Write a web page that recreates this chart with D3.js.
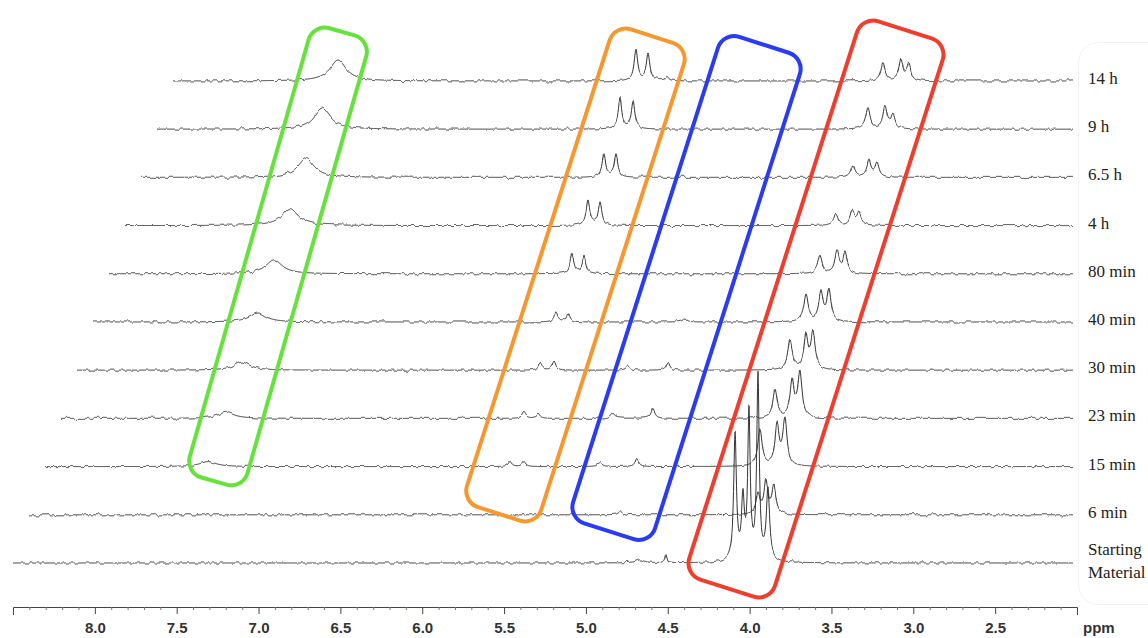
<!DOCTYPE html>
<html>
<head>
<meta charset="utf-8">
<script src="https://cdn.jsdelivr.net/npm/d3@7"></script>
<style>
  html, body { margin: 0; padding: 0; background: #fff; }
  svg { display: block; }
</style>
</head>
<body>
<div id="chart"></div>
<script>
// ppm axis (high field on the right, as usual for NMR)
const ppmDomain = [8.5, 2.0];
const majorTicks = [8.0, 7.5, 7.0, 6.5, 6.0, 5.5, 5.0, 4.5, 4.0, 3.5, 3.0, 2.5];
const minorTicks = d3.range(84, 20, -1).map(d => d / 10).filter(d => !majorTicks.includes(d));

// one label per spectrum, bottom to top
const traceLabels = ['Starting Material', '6 min', '15 min', '23 min', '30 min', '40 min',
                     '80 min', '4 h', '6.5 h', '9 h', '14 h'];

// peaks: [ppm, intensity, half width (ppm)]
const peaksSM   = [[4.670, 3, 0.03], [4.511, 9, 0.008], [4.089, 126, 0.010], [4.041, 60, 0.010],
                   [4.004, 146, 0.009], [3.949, 184, 0.009], [3.888, 72, 0.012]];
const peaks6    = [[4.884, 4, 0.015], [4.047, 20, 0.014], [3.998, 33, 0.014], [3.949, 28, 0.014]];
const peaks15   = [[7.504, 5, 0.06], [5.659, 5, 0.013], [5.574, 5, 0.013], [5.110, 4, 0.015],
                   [4.884, 8, 0.013], [4.132, 37, 0.016], [4.028, 40, 0.015], [3.980, 47, 0.015]];
const peaks23   = [[7.492, 6, 0.06], [5.672, 6, 0.013], [5.586, 5, 0.013], [5.134, 5, 0.015],
                   [4.884, 10, 0.013], [4.138, 28, 0.016], [4.034, 37, 0.015], [3.986, 45, 0.015]];
const peaks30   = [[7.492, 8, 0.06], [5.672, 7, 0.013], [5.586, 9, 0.013], [5.134, 4, 0.015],
                   [4.890, 8, 0.013], [4.144, 30, 0.016], [4.047, 34, 0.015], [4.004, 36, 0.015]];
const peaks40   = [[7.492, 9, 0.06], [5.672, 10, 0.013], [5.598, 9, 0.013], [4.884, 4, 0.013],
                   [4.144, 27, 0.016], [4.053, 30, 0.015], [4.004, 31, 0.015]];
const peaks80   = [[7.492, 14, 0.06], [5.672, 20, 0.013], [5.598, 17, 0.013],
                   [4.157, 18, 0.016], [4.053, 22, 0.015], [4.004, 20, 0.015]];
const peaks4h   = [[7.492, 17, 0.06], [5.672, 25, 0.013], [5.598, 23, 0.013],
                   [4.157, 12, 0.016], [4.059, 14, 0.015], [4.016, 13, 0.015]];
const peaks65h  = [[7.492, 19, 0.06], [5.672, 24, 0.013], [5.598, 22, 0.013],
                   [4.151, 12, 0.016], [4.053, 16, 0.015], [4.004, 14, 0.015]];
const peaks9h   = [[7.492, 21, 0.06], [5.672, 31, 0.013], [5.592, 28, 0.013],
                   [4.157, 21, 0.016], [4.053, 22, 0.015], [4.004, 14, 0.015]];
const peaks14h  = [[7.492, 21, 0.06], [5.672, 31, 0.013], [5.598, 27, 0.013], [5.482, 4, 0.012],
                   [4.163, 18, 0.016], [4.053, 21, 0.015], [4.004, 16, 0.015]];

const tracePeaks = [peaksSM, peaks6, peaks15, peaks23, peaks30, peaks40,
                    peaks80, peaks4h, peaks65h, peaks9h, peaks14h];

// highlight boxes: ends given as [ppm, spectrum level]
const boxColors = ['#66e23c', '#f6982f', '#2a3cf2', '#ef3e2d'];
const boxBottoms = [[7.272, 1.70], [5.531, 1.02], [4.859, 0.66], [4.138, -0.52]];
const boxTops    = [[6.490, 11.02], [4.597, 10.93], [3.912, 10.75], [3.051, 11.06]];
const boxWidths  = [60, 78, 86, 90];

// layout
const width = 1148;
const height = 638;
const axisY = 607;
const traceEnd = 1073;
const lineColor = '#333';

const x = d3.scaleLinear().domain(ppmDomain).range([13, 1077]);
const level = d3.scaleLinear().domain([0, 10]).range([563, 81]);   // baseline of each spectrum
const depth = d3.scaleLinear().domain([0, 10]).range([0, 160]);    // pseudo-3D shift
const intensity = d3.scaleLinear().domain([0, 100]).range([0, 100]);

const svg = d3.select('#chart')
  .append('svg')
    .attr('width', width)
    .attr('height', height);

// baseline noise as a drawing style
const filter = svg.append('defs').append('filter')
    .attr('id', 'noise')
    .attr('filterUnits', 'userSpaceOnUse')
    .attr('x', 0).attr('y', 0).attr('width', width).attr('height', height)
    .attr('color-interpolation-filters', 'sRGB');
filter.append('feTurbulence')
    .attr('type', 'fractalNoise')
    .attr('baseFrequency', '0.2 0.03')
    .attr('numOctaves', 2)
    .attr('seed', 7)
    .attr('result', 'turb');
filter.append('feColorMatrix')
    .attr('in', 'turb')
    .attr('type', 'matrix')
    .attr('values', '0 0 0 0 0.5  0 1 0 0 0  0 0 0 0 0.5  0 0 0 0 1')
    .attr('result', 'disp');
filter.append('feDisplacementMap')
    .attr('in', 'SourceGraphic')
    .attr('in2', 'disp')
    .attr('scale', 5)
    .attr('xChannelSelector', 'R')
    .attr('yChannelSelector', 'G');

// label panel
svg.append('rect')
    .attr('x', 1078.5).attr('y', 42.5)
    .attr('width', 110).attr('height', 562)
    .attr('rx', 20)
    .attr('fill', 'none')
    .attr('stroke', '#f2f2f2');

// spectra
function spectrum(peaks, i) {
  const pts = [];
  for (let px = x.range()[0]; px <= traceEnd - depth(i); px += 0.5) {
    const ppm = x.invert(px);
    let v = 0;
    peaks.forEach(([p, h, w]) => { v += h / (1 + ((ppm - p) / w) ** 2); });
    pts.push({ ppm, v });
  }
  return pts;
}

const traceGroup = svg.append('g')
    .classed('traces', true)
    .attr('filter', 'url(#noise)');

tracePeaks.forEach((peaks, i) => {
  const line = d3.line()
      .x(d => x(d.ppm) + depth(i))
      .y(d => level(i) - intensity(d.v));
  traceGroup.append('path')
      .datum(spectrum(peaks, i))
      .attr('d', line)
      .attr('fill', 'none')
      .attr('stroke', lineColor)
      .attr('stroke-width', 1)
      .attr('stroke-linejoin', 'round');
});

// highlight boxes
const boxGroup = svg.append('g').classed('boxes', true);
boxColors.forEach((color, k) => {
  const bx = x(boxBottoms[k][0]), by = level(boxBottoms[k][1]);
  const tx = x(boxTops[k][0]), ty = level(boxTops[k][1]);
  const len = Math.hypot(tx - bx, ty - by);
  const angle = Math.atan2(tx - bx, by - ty) * 180 / Math.PI;
  const w = boxWidths[k];
  boxGroup.append('rect')
      .attr('x', -w / 2).attr('y', -len / 2)
      .attr('width', w).attr('height', len)
      .attr('rx', 17)
      .attr('transform', `translate(${(bx + tx) / 2},${(by + ty) / 2}) rotate(${angle})`)
      .attr('fill', 'none')
      .attr('stroke', color)
      .attr('stroke-width', 4);
});

// spectrum labels
const labelGroup = svg.append('g')
    .style('font-family', '"Liberation Serif", "Times New Roman", serif')
    .style('font-size', '17px')
    .attr('fill', '#222');
traceLabels.forEach((label, i) => {
  const words = label === 'Starting Material' ? ['Starting', 'Material'] : [label];
  const t = labelGroup.append('text')
      .attr('x', 1089)
      .attr('y', level(i) - 3 - (words.length - 1) * 11)
      .attr('dominant-baseline', 'central');
  words.forEach((w, j) => {
    t.append('tspan').attr('x', 1088).attr('dy', j ? 23 : 0).text(w);
  });
});

// ppm axis
const gAxis = svg.append('g')
    .attr('transform', `translate(0,${axisY})`)
    .call(d3.axisBottom(x)
      .tickValues(majorTicks)
      .tickFormat(d3.format('.1f'))
      .tickSizeInner(7)
      .tickSizeOuter(8)
      .tickPadding(8));
gAxis.selectAll('path, line').attr('stroke', '#444');
gAxis.selectAll('text')
    .style('font-family', '"Liberation Sans", Arial, sans-serif')
    .style('font-weight', 'bold')
    .style('font-size', '15px')
    .attr('fill', '#333');

const gMinor = svg.append('g')
    .attr('transform', `translate(0,${axisY})`)
    .call(d3.axisBottom(x).tickValues(minorTicks).tickSize(3).tickFormat(''));
gMinor.select('.domain').remove();
gMinor.selectAll('line').attr('stroke', '#777');

svg.append('text')
    .attr('x', 1083)
    .attr('y', 633)
    .style('font-family', '"Liberation Sans", Arial, sans-serif')
    .style('font-weight', 'bold')
    .style('font-size', '15px')
    .attr('fill', '#333')
    .text('ppm');
</script>
</body>
</html>
